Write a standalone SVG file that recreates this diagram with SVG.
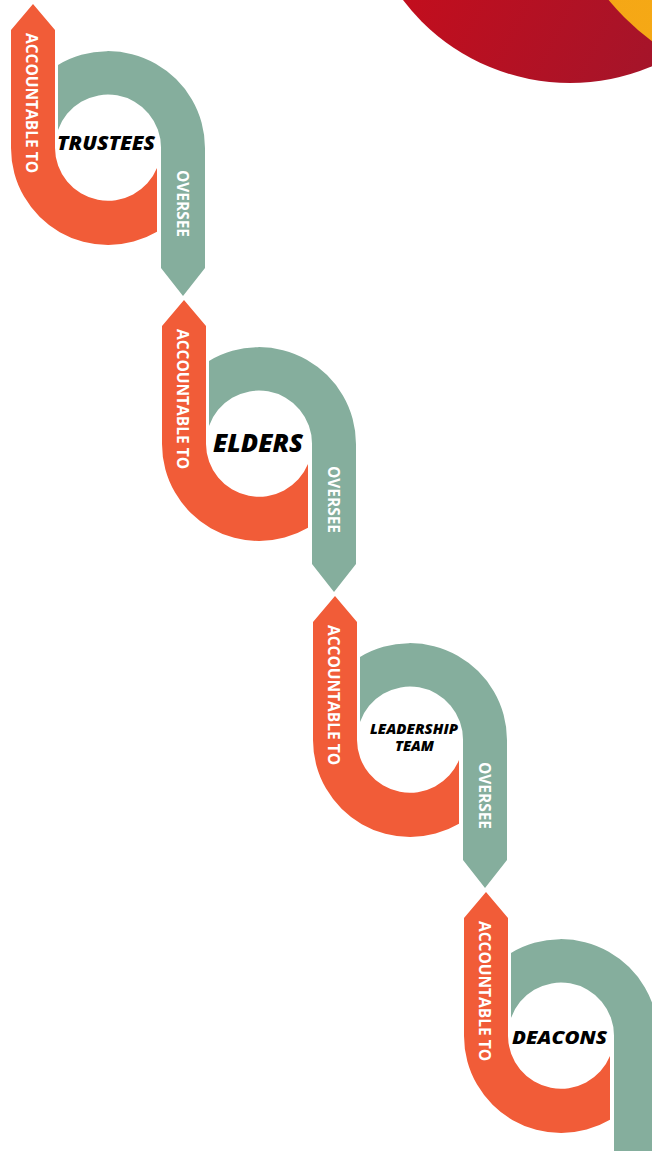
<svg xmlns="http://www.w3.org/2000/svg" xmlns:xlink="http://www.w3.org/1999/xlink" width="652" height="1151" viewBox="0 0 652 1151">
<style>
.orange{fill:#F15C38;}
.green{fill:#85AE9D;}
.band{font-family:"Open Sans","Liberation Sans",sans-serif;font-weight:700;font-size:16px;fill:#FFFFFF;text-anchor:middle;}
.node{font-family:"Open Sans","Liberation Sans",sans-serif;font-weight:800;font-style:italic;fill:#000000;text-anchor:middle;}
</style>
<defs>
<linearGradient id="redGrad" x1="0" y1="0" x2="1" y2="0.5">
<stop offset="0" stop-color="#D80914"/>
<stop offset="1" stop-color="#A2152B"/>
</linearGradient>
<linearGradient id="yelGrad" x1="0" y1="0" x2="1" y2="0">
<stop offset="0" stop-color="#F5A516"/>
<stop offset="1" stop-color="#F7B512"/>
</linearGradient>
<path id="accArrow" d="M 33,4 L 55,30 L 55,148 A 53 53 0 0 0 157,168 L 157,231.7 A 97 97 0 0 1 11,148 L 11,30 Z"/>
<path id="ovArrow" d="M 58,65 A 97 97 0 0 1 205,148 L 205,268 L 183,296 L 161,268 L 161,148 A 53 53 0 0 0 58,130 Z"/>
</defs>
<rect width="652" height="1151" fill="#FFFFFF"/>
<g id="decor">
<circle cx="570" cy="-126.5" r="209.5" fill="url(#redGrad)"/>
<circle cx="802" cy="-160" r="251" fill="url(#yelGrad)"/>
</g>
<g id="connectors">
<g transform="translate(0,0)">
<use xlink:href="#accArrow" class="orange"/>
<use xlink:href="#ovArrow" class="green"/>
<text class="band" transform="translate(26,103) rotate(90)" textLength="140" lengthAdjust="spacingAndGlyphs">ACCOUNTABLE TO</text>
<text class="band" transform="translate(177,203.5) rotate(90)" textLength="67" lengthAdjust="spacingAndGlyphs">OVERSEE</text>
</g>
<g transform="translate(151,296)">
<use xlink:href="#accArrow" class="orange"/>
<use xlink:href="#ovArrow" class="green"/>
<text class="band" transform="translate(26,103) rotate(90)" textLength="140" lengthAdjust="spacingAndGlyphs">ACCOUNTABLE TO</text>
<text class="band" transform="translate(177,203.5) rotate(90)" textLength="67" lengthAdjust="spacingAndGlyphs">OVERSEE</text>
</g>
<g transform="translate(302,592)">
<use xlink:href="#accArrow" class="orange"/>
<use xlink:href="#ovArrow" class="green"/>
<text class="band" transform="translate(26,103) rotate(90)" textLength="140" lengthAdjust="spacingAndGlyphs">ACCOUNTABLE TO</text>
<text class="band" transform="translate(177,203.5) rotate(90)" textLength="67" lengthAdjust="spacingAndGlyphs">OVERSEE</text>
</g>
<g transform="translate(453,888)">
<use xlink:href="#accArrow" class="orange"/>
<use xlink:href="#ovArrow" class="green"/>
<text class="band" transform="translate(26,103) rotate(90)" textLength="140" lengthAdjust="spacingAndGlyphs">ACCOUNTABLE TO</text>
</g>
</g>
<g id="trustees">
<text class="node" x="106" y="150" font-size="19" textLength="98" lengthAdjust="spacingAndGlyphs">TRUSTEES</text>
</g>
<g id="elders">
<text class="node" x="258" y="452" font-size="24" textLength="90" lengthAdjust="spacingAndGlyphs">ELDERS</text>
</g>
<g id="leadership-team">
<text class="node" x="414" y="734" font-size="14" textLength="88" lengthAdjust="spacingAndGlyphs">LEADERSHIP</text>
<text class="node" x="414.5" y="751" font-size="14" textLength="39" lengthAdjust="spacingAndGlyphs">TEAM</text>
</g>
<g id="deacons">
<text class="node" x="559.5" y="1044" font-size="18" textLength="95" lengthAdjust="spacingAndGlyphs">DEACONS</text>
</g>
</svg>
